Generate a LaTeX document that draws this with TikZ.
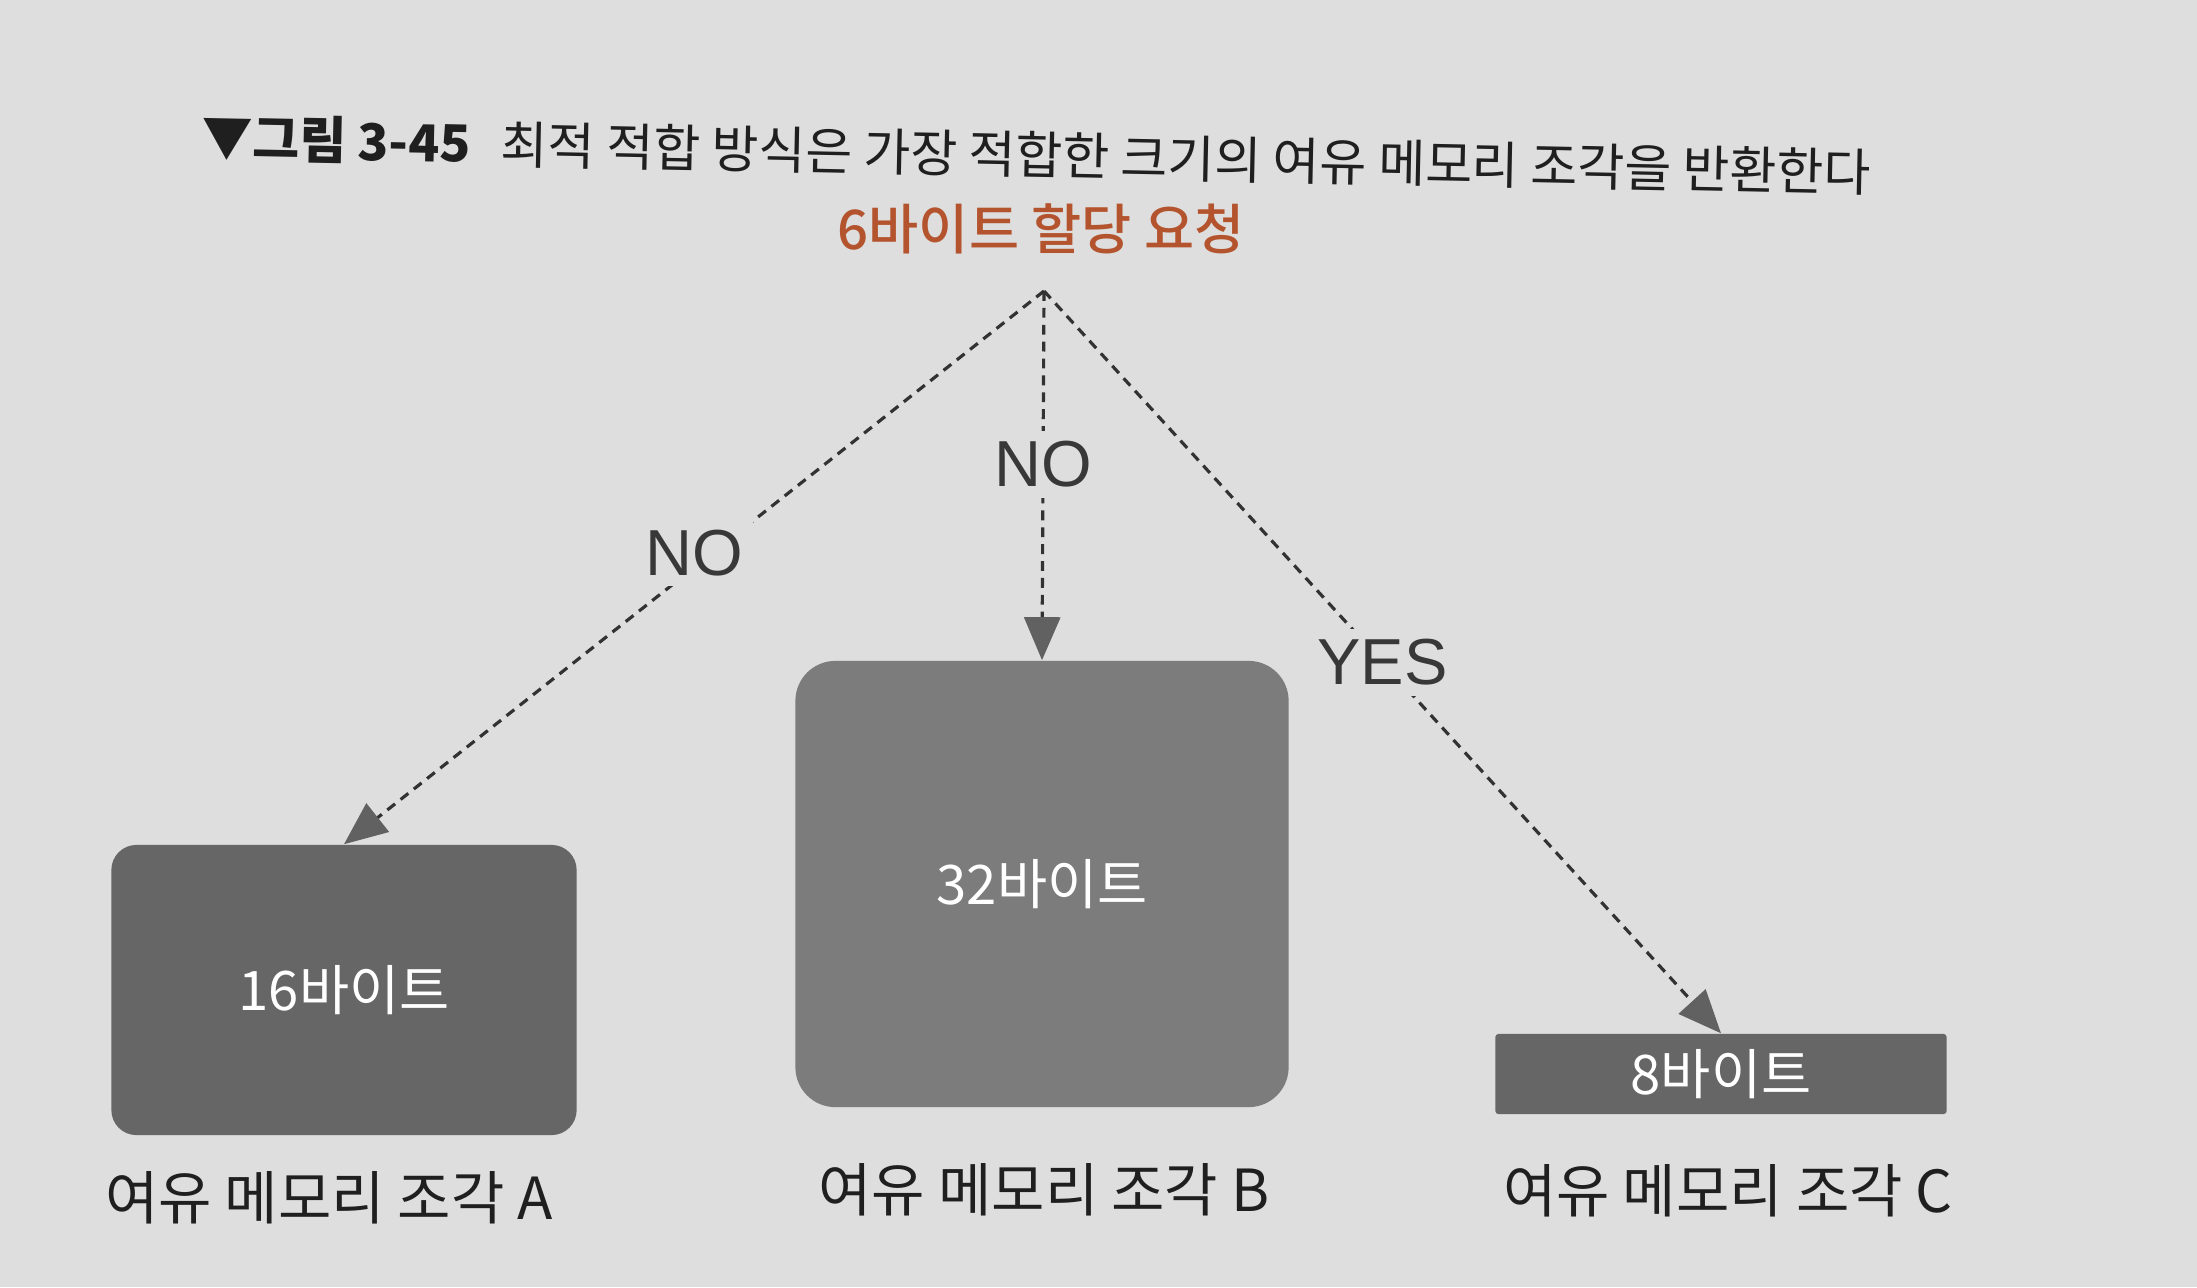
\documentclass[tikz,border=0pt]{standalone}
\usepackage{fontspec}
\setmainfont{Noto Sans CJK KR}
\newfontfamily\mediumfont{Noto Sans CJK KR Medium}
\newfontfamily\answerfont{Liberation Sans}
\usepackage{tikz}
\usetikzlibrary{arrows.meta}
\usetikzlibrary{positioning}
\definecolor{page}{RGB}{221,222,221}
\definecolor{chunkdark}{RGB}{102,102,102}
\definecolor{chunklight}{RGB}{124,124,124}
\definecolor{request}{RGB}{180,84,46}
\definecolor{dashline}{RGB}{50,50,50}
\tikzset{
  chunk/.style={fill=chunkdark, text=white, rounded corners=0.25cm, font=\fontsize{15.5}{18}\selectfont},
  chunkname/.style={text=black!88, font=\fontsize{16.5}{19}\selectfont},
  answer/.style={fill=page, inner sep=3pt, text=black!78, font=\answerfont\fontsize{18.5}{21}\selectfont},
  search/.style={draw=dashline, line width=0.9pt, dash pattern=on 2.8pt off 2pt,
    -{Triangle[length=4.3mm,width=3.6mm,color=black!62]}},
}

\begin{document}
\begin{tikzpicture}[x=0.01cm,y=-0.01cm]
  \useasboundingbox (0,0) rectangle (2197,1287);
  \fill[page] (0,0) rectangle (2197,1287);
  \node[rotate=-1.2, text=black!88, font=\fontsize{14.5}{17}\selectfont] (title) at (1036,155)
    {{\bfseries ▼그림 3-45}\hspace{0.6em}최적 적합 방식은 가장 적합한 크기의 여유 메모리 조각을 반환한다};
  \node[text=request, font=\mediumfont\fontsize{15.5}{18}\selectfont] (req) at (1041,229) {6바이트 할당 요청};
  \coordinate (split) at (1044,291);
  \node[chunk, minimum width=4.65cm, minimum height=2.9cm] (A) at (344,990) {16바이트};
  \node[chunk, fill=chunklight, rounded corners=0.4cm, minimum width=4.93cm, minimum height=4.46cm] (B) at (1042,884) {32바이트};
  \node[chunk, rounded corners=0.03cm, minimum width=4.51cm, minimum height=0.8cm] (C) at (1721,1074) {8바이트};
  \node[chunkname] (nameA) at (329,1198) {여유 메모리 조각 A};
  \node[chunkname] (nameB) at (1044,1190) {여유 메모리 조각 B};
  \node[chunkname] (nameC) at (1728,1191) {여유 메모리 조각 C};
  \path (split) edge[search] node[answer, pos=0.5, yshift=0.15cm] {NO} (A.north);
  \path (split) edge[search] node[answer, pos=0.47] {NO} (B.north);
  \path (split) edge[search] node[answer, pos=0.5] {YES} (C.north);
\end{tikzpicture}
\end{document}
